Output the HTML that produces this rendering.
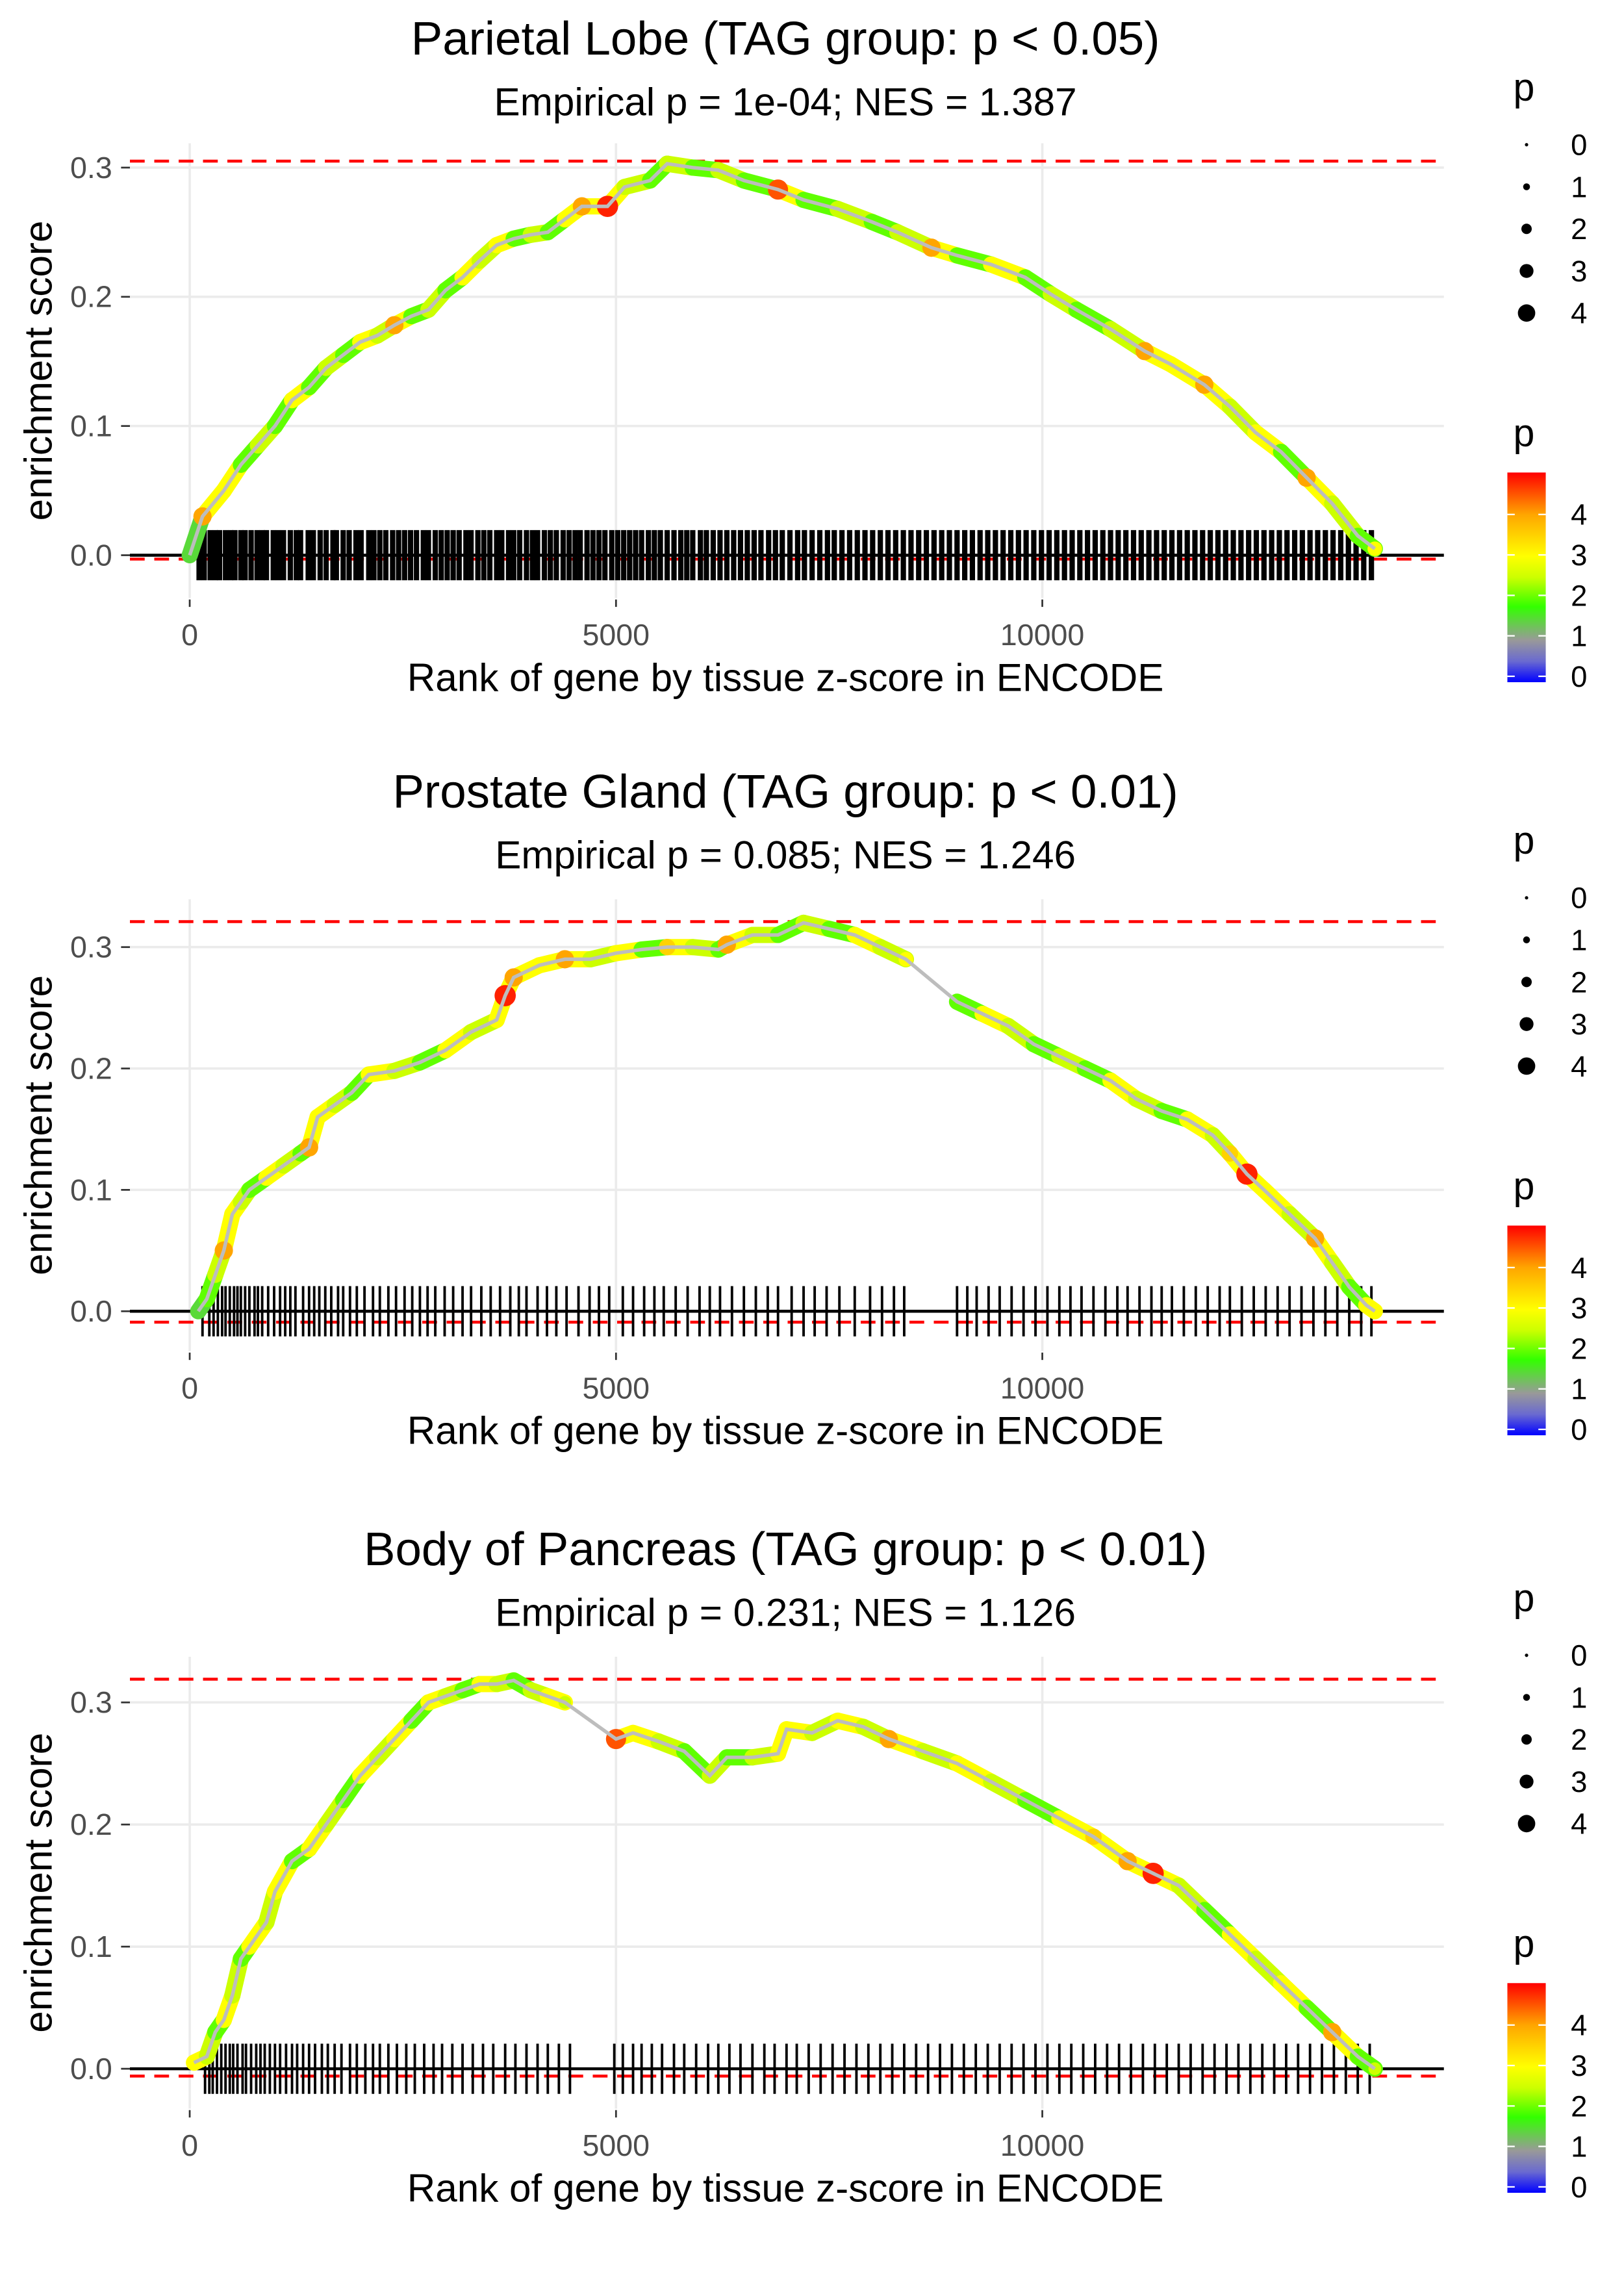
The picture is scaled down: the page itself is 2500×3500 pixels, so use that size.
<!DOCTYPE html>
<html><head><meta charset="utf-8"><style>
html,body{margin:0;padding:0;background:#fff}
svg{display:block}
text{font-family:"Liberation Sans",sans-serif}
</style></head><body>
<svg id="chart" xmlns="http://www.w3.org/2000/svg" width="2500" height="3500" viewBox="0 0 1100 1540">
<defs>
<linearGradient id="pgrad" x1="0" y1="1" x2="0" y2="0">
<stop offset="0" stop-color="#0000ff"/>
<stop offset="0.1" stop-color="#6a6ad0"/>
<stop offset="0.2" stop-color="#999999"/>
<stop offset="0.36" stop-color="#33ff00"/>
<stop offset="0.5" stop-color="#ccff00"/>
<stop offset="0.6" stop-color="#ffff00"/>
<stop offset="0.8" stop-color="#ffa500"/>
<stop offset="1" stop-color="#ff0000"/>
</linearGradient>
</defs>
</svg>
<script>
// ---- data ----
const titles = ["Parietal Lobe (TAG group: p < 0.05)","Prostate Gland (TAG group: p < 0.01)","Body of Pancreas (TAG group: p < 0.01)"];
const subtitles = ["Empirical p = 1e-04; NES = 1.387","Empirical p = 0.085; NES = 1.246","Empirical p = 0.231; NES = 1.126"];
const esMax = [0.305, 0.321, 0.319];
const esMin = [-0.003, -0.009, -0.006];
const xTicks = [0, 5000, 10000];
const yTicks = [0.0, 0.1, 0.2, 0.3];
const yTickLabels = ["0.0","0.1","0.2","0.3"];
const sizeLegend = [0,1,2,3,4];
const colorLegend = [0,1,2,3,4];

const ranks1 = [0,150,400,600,800,1000,1200,1400,1600,1800,2000,2200,2400,2600,2800,3000,3200,3400,3600,3800,4000,4200,4400,4600,4900,5100,5400,5600,5900,6200,6500,6900,7200,7600,8000,8300,8700,9000,9400,9800,10100,10400,10800,11200,11500,11900,12200,12500,12800,13100,13400,13700,13900];
const es1 = [0,0.03,0.05,0.07,0.085,0.10,0.12,0.13,0.145,0.155,0.165,0.17,0.178,0.185,0.19,0.205,0.215,0.228,0.24,0.245,0.248,0.25,0.26,0.27,0.27,0.285,0.29,0.303,0.30,0.298,0.29,0.283,0.275,0.268,0.258,0.25,0.238,0.232,0.225,0.215,0.202,0.19,0.175,0.158,0.148,0.132,0.115,0.095,0.08,0.06,0.04,0.015,0.005];
const p1 = [1.5,4,3,2,2.5,2,3,2,2.5,2,3,2.5,4,2,2.5,2,3,2.5,3,2,2.5,2,3,4,4.8,2.5,2,2.5,2,2.5,2,4.5,2,2.5,2,2.5,4,2,3,2,2.5,2,2.5,4,3,4,2.5,3,2,4,2.5,2,3];
const hits1 = [110,170,240,300,350,420,480,530,600,650,720,790,850,900,980,1040,1100,1180,1250,1300,1390,1450,1530,1600,1680,1720,1800,1870,1950,2010,2100,2160,2230,2300,2380,2450,2520,2590,2660,2740,2800,2880,2950,3020,3090,3160,3240,3300,3380,3450,3520,3600,3660,3740,3800,3870,3950,4020,4080,4160,4230,4300,4380,4450,4520,4580,4660,4730,4800,4870,4950,5020,5090,5160,5230,5300,5380,5450,5520,5600,5680,5760,5830,5900,5990,6060,6140,6220,6300,6380,6460,6540,6620,6700,6790,6870,6950,7040,7130,7210,7300,7390,7480,7560,7650,7740,7830,7920,8010,8100,8190,8280,8370,8460,8550,8640,8730,8820,8910,9000,9090,9180,9270,9360,9450,9540,9630,9720,9810,9900,9990,10080,10170,10260,10350,10440,10530,10620,10710,10800,10890,10980,11070,11160,11250,11340,11430,11520,11610,11700,11790,11880,11970,12060,12150,12240,12330,12420,12510,12600,12690,12780,12870,12960,13050,13140,13230,13320,13410,13500,13590,13680,13770,13860];

const ranks2 = [100,200,300,400,500,600,700,900,1100,1300,1400,1500,1700,1900,2100,2400,2700,3000,3300,3600,3700,3800,4100,4400,4700,5000,5300,5600,5900,6200,6300,6600,6900,7200,7500,7800,8100,8400,9000,9300,9600,9900,10200,10500,10800,11100,11400,11700,12000,12200,12400,12600,12900,13200,13400,13600,13800,13900];
const es2 = [0,0.01,0.03,0.05,0.08,0.09,0.10,0.11,0.12,0.13,0.135,0.16,0.17,0.18,0.195,0.198,0.205,0.215,0.23,0.24,0.26,0.275,0.285,0.29,0.29,0.295,0.298,0.30,0.30,0.298,0.302,0.31,0.31,0.32,0.315,0.31,0.30,0.29,0.255,0.245,0.235,0.22,0.21,0.20,0.19,0.175,0.165,0.158,0.145,0.13,0.113,0.10,0.08,0.06,0.04,0.02,0.005,0.0];
const p2 = [1.5,2,2.5,4,3,2.5,2,3,2.5,2,4,3,2.5,2,3,2.5,2,3,2.5,3,4.8,4,3,4,2.5,3,2,3.5,2.5,2,4,2.5,2,2.5,2,3,2.5,3,2,3,2.5,2,2.5,2,3,2.5,2,3,2.5,3.5,4.8,3,2.5,4,2.5,2,3,3];
const hits2 = [150,230,280,330,380,420,470,520,560,600,650,700,760,800,850,920,990,1060,1120,1180,1240,1330,1400,1460,1520,1590,1660,1740,1800,1880,1960,2050,2150,2230,2330,2420,2520,2610,2700,2790,2880,2990,3090,3200,3300,3420,3530,3640,3760,3860,3950,4080,4190,4300,4420,4560,4690,4800,4920,5080,5200,5330,5450,5560,5700,5840,5980,6100,6220,6360,6500,6640,6780,6900,7060,7200,7330,7470,7620,7800,7980,8120,8260,8380,9000,9120,9230,9370,9500,9640,9780,9920,10060,10200,10330,10460,10600,10740,10880,11000,11140,11280,11400,11520,11660,11800,11940,12080,12200,12340,12480,12620,12760,12900,13040,13180,13320,13460,13600,13740,13860];

const ranks3 = [50,200,300,400,500,600,700,900,1000,1200,1400,1600,1800,2000,2200,2400,2600,2800,3000,3200,3400,3600,3800,4000,4200,4400,5000,5200,5500,5800,6100,6300,6600,6900,7000,7300,7600,7900,8200,8600,9000,9400,9800,10200,10600,11000,11300,11600,11900,12200,12500,12800,13100,13400,13700,13900];
const es3 = [0.005,0.01,0.03,0.04,0.06,0.09,0.10,0.12,0.145,0.17,0.18,0.20,0.22,0.24,0.255,0.27,0.285,0.30,0.305,0.31,0.315,0.315,0.318,0.31,0.305,0.30,0.27,0.275,0.268,0.26,0.24,0.255,0.255,0.258,0.278,0.275,0.285,0.28,0.27,0.26,0.25,0.235,0.22,0.205,0.19,0.17,0.16,0.15,0.13,0.11,0.09,0.07,0.05,0.03,0.01,0];
const p3 = [3,2.5,2,3,2.5,2,3,2.5,3,2,3,2.5,2,3,2.5,3,2,3,2.5,2,3,2.5,2,2.5,3,2.5,4.5,3,2.5,2,2.5,2,2.5,3,3,2.5,3,2.5,4,2.5,3,2.5,2,3,3.5,4,4.8,2.5,2,3,2.5,3,2,4,2,2.5];
const hits3 = [180,230,270,320,370,420,470,510,560,620,660,720,780,830,880,940,1000,1060,1130,1200,1260,1330,1400,1470,1550,1620,1700,1780,1880,1960,2060,2150,2230,2330,2430,2540,2640,2750,2860,2960,3080,3200,3320,3440,3560,3700,3820,3950,4080,4200,4330,4460,4980,5080,5200,5300,5420,5540,5680,5800,5940,6080,6200,6330,6460,6600,6740,6860,7000,7120,7260,7400,7540,7680,7820,7960,8100,8240,8380,8520,8660,8800,8940,9080,9220,9360,9500,9640,9780,9920,10060,10200,10340,10480,10620,10760,10900,11040,11180,11320,11460,11600,11740,11880,12020,12160,12300,12440,12580,12720,12860,13000,13140,13280,13420,13560,13700,13840];

const panelRanks = [ranks1, ranks2, ranks3];
const panelES = [es1, es2, es3];
const panelP = [p1, p2, p3];
const panelHits = [hits1, hits2, hits3];

// ---- layout ----
const NS = "http://www.w3.org/2000/svg";
const svg = document.getElementById("chart");
const layouts = [
  {y0:376, k:875, top:97, bottom:405, dy:0},
  {y0:888, k:822, top:609, bottom:915, dy:510},
  {y0:1401, k:827, top:1122, bottom:1428, dy:1023}
];
const PX0 = 88, PX1 = 976;
const LX = -12;
function xs(r){ return 128.5 + r * 0.05775; }
function mk(tag, attrs, parent){
  const e = document.createElementNS(NS, tag);
  for (const k in attrs) e.setAttribute(k, attrs[k]);
  (parent||svg).appendChild(e);
  return e;
}
function lerp(a,b,t){return a+(b-a)*t;}
const cstops = [[0,[0,0,255]],[0.5,[106,106,208]],[1,[153,153,153]],[1.8,[51,255,0]],[2.5,[204,255,0]],[3,[255,255,0]],[4,[255,165,0]],[5,[255,0,0]]];
function pcolor(p){
  p = Math.max(0, Math.min(5, p));
  for (let i=0;i<cstops.length-1;i++){
    const a=cstops[i], b=cstops[i+1];
    if (p<=b[0]){ const t=(p-a[0])/(b[0]-a[0]);
      return "rgb("+a[1].map((v,j)=>Math.round(lerp(v,b[1][j],t))).join(",")+")"; }
  }
  return "rgb(255,0,0)";
}
function psize(p){ return 1.2 + 1.25 * p; }

layouts.forEach((L, pi) => {
  const ys = v => L.y0 - v * L.k;
  const g = mk("g", {});
  
  

  const t = mk("text", {x:532, y:37+L.dy, "text-anchor":"middle", "font-size":"32", fill:"#000"}, g);
  t.textContent = titles[pi];
  
  
  const st = mk("text", {x:532, y:78+L.dy, "text-anchor":"middle", "font-size":"26.5", fill:"#000"}, g);
  st.textContent = subtitles[pi];
  
  

  // grid
  xTicks.forEach(v => {
    const l = mk("line", {x1:xs(v), x2:xs(v), y1:L.top, y2:L.bottom, stroke:"#ebebeb", "stroke-width":"1.6"}, g);
    
    
    const tk = mk("line", {x1:xs(v), x2:xs(v), y1:L.bottom+1, y2:L.bottom+6, stroke:"#333", "stroke-width":"1.2"}, g);
    
    
    const tl = mk("text", {x:xs(v), y:L.bottom+32, "text-anchor":"middle", "font-size":"20.5", fill:"#4d4d4d"}, g);
    tl.textContent = String(v);
    
    
  });
  yTicks.forEach((v, i) => {
    const l = mk("line", {x1:PX0, x2:PX1+2, y1:ys(v), y2:ys(v), stroke:"#ebebeb", "stroke-width":"1.6"}, g);
    
    
    const tk = mk("line", {x1:82, x2:88, y1:ys(v), y2:ys(v), stroke:"#333", "stroke-width":"1.2"}, g);
    
    
    const tl = mk("text", {x:76, y:ys(v)+7, "text-anchor":"end", "font-size":"20.5", fill:"#4d4d4d"}, g);
    tl.textContent = yTickLabels[i];
    
    
  });

  // red dashed lines
  [esMax[pi], esMin[pi]].forEach((v, i) => {
    const l = mk("line", {x1:PX0, x2:PX1+2, y1:ys(v), y2:ys(v), stroke:"#ff0000", "stroke-width":"2", "stroke-dasharray":"10,6.5"}, g);
    
    
  });

  // barcode
  const bc = mk("g", {}, g);
  
  
  panelHits[pi].forEach(r => {
    const l = mk("line", {x1:xs(r), x2:xs(r), y1:L.y0-17, y2:L.y0+17, stroke:"#000", "stroke-width": pi===0 ? "3.6" : "1.7"}, bc);
    
    
  });
  const zl = mk("line", {x1:PX0, x2:PX1+2, y1:L.y0, y2:L.y0, stroke:"#000", "stroke-width":"2"}, g);
  
  

  // curve band
  const R = panelRanks[pi], E = panelES[pi], P = panelP[pi];
  for (let i=0;i<R.length-1;i++){
    if (R[i+1]-R[i] > 450) continue;
    const b = mk("line", {x1:xs(R[i]), y1:ys(E[i]), x2:xs(R[i+1]), y2:ys(E[i+1]), stroke:pcolor(Math.min(P[i],3)), "stroke-width":"11", "stroke-linecap":"round"}, g);
    
    
  }
  R.forEach((r, i) => {
    const c = mk("circle", {cx:xs(r), cy:ys(E[i]), r:psize(P[i]), fill:pcolor(P[i])}, g);
    
    
  });
  const pl = mk("polyline", {points:R.map((r,i)=>xs(r)+","+ys(E[i])).join(" "), fill:"none", stroke:"#bdbdbd", "stroke-width":"2.4"}, g);
  
  

  // axis titles
  const xt = mk("text", {x:532, y:L.bottom+63, "text-anchor":"middle", "font-size":"26.5", fill:"#000"}, g);
  xt.textContent = "Rank of gene by tissue z-score in ENCODE";
  
  
  const yc = (L.top + L.bottom)/2;
  const yt = mk("text", {x:0, y:0, "text-anchor":"middle", "font-size":"26.5", fill:"#000", transform:"translate(35,"+yc+") rotate(-90)"}, g);
  yt.textContent = "enrichment score";
  
  

  // size legend
  const sl = mk("g", {}, g);
  
  
  const slt = mk("text", {x:1037+LX, y:68+L.dy, "font-size":"26", fill:"#000"}, sl);
  slt.textContent = "p";
  
  
  sizeLegend.forEach((v, i) => {
    const yy = 98 + i*28.5 + L.dy;
    const c = mk("circle", {cx:1046+LX, cy:yy, r:psize(v)*0.95, fill:"#000"}, sl);
    
    
    const tx = mk("text", {x:1076+LX, y:yy+7, "font-size":"20", fill:"#000"}, sl);
    tx.textContent = String(v);
    
    
  });

  // color legend
  const cl = mk("g", {}, g);
  
  
  const clt = mk("text", {x:1037+LX, y:302+L.dy, "font-size":"26", fill:"#000"}, cl);
  clt.textContent = "p";
  
  
  const barTop = 320 + L.dy, barBot = 462 + L.dy, per = 27.4, zeroY = 458 + L.dy;
  const rb = mk("rect", {x:1033+LX, y:barTop, width:26, height:barBot-barTop, fill:"url(#pgrad)"}, cl);
  
  
  colorLegend.forEach(v => {
    const yy = zeroY - v*per;
    mk("line", {x1:1033+LX, x2:1038+LX, y1:yy, y2:yy, stroke:"#fff", "stroke-width":"1"}, cl);
    mk("line", {x1:1054+LX, x2:1059+LX, y1:yy, y2:yy, stroke:"#fff", "stroke-width":"1"}, cl);
    const tx = mk("text", {x:1076+LX, y:yy+7, "font-size":"20", fill:"#000"}, cl);
    tx.textContent = String(v);
    
    
  });
});
</script>
</body></html>
